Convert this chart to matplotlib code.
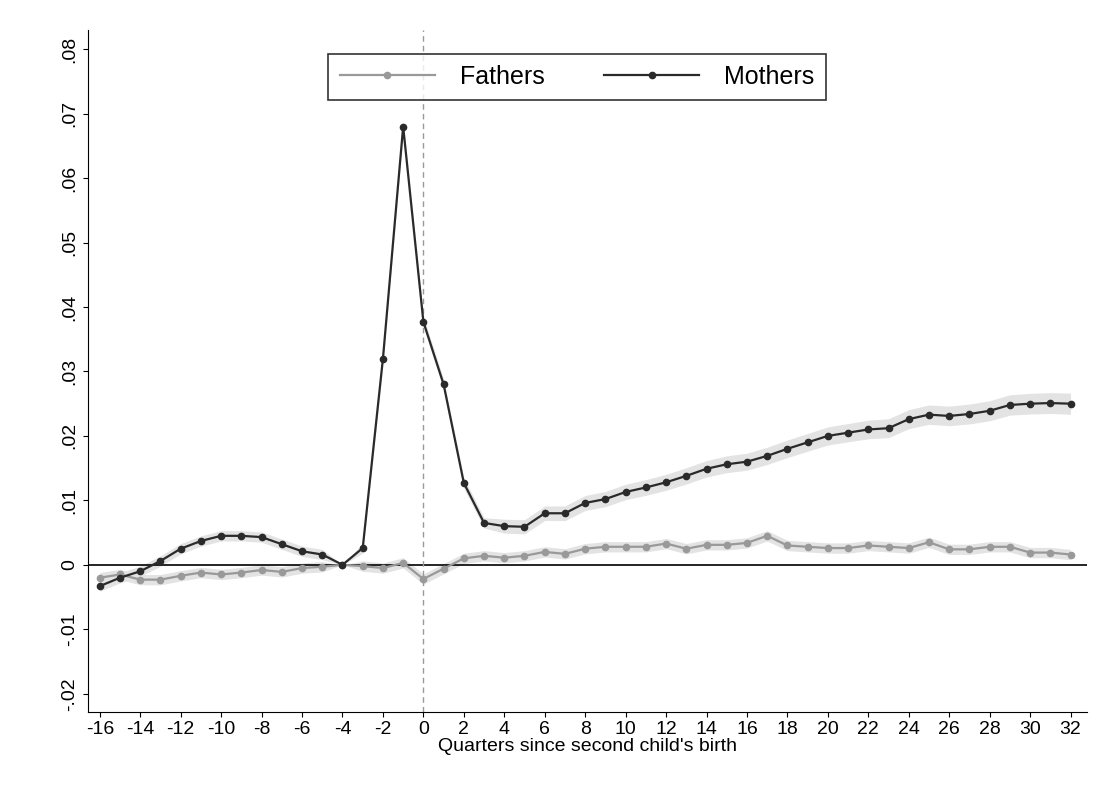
import matplotlib
matplotlib.use("Agg")
import matplotlib.pyplot as plt
import numpy as np

plt.rcParams['font.family'] = ['Liberation Sans', 'DejaVu Sans']
plt.rcParams['axes.unicode_minus'] = False

quarters = list(range(-16, 33))
mothers = [-0.0033,-0.002,-0.001,0.0006,0.0025,0.0037,0.0045,0.0045,0.0043,0.0032,0.0021,0.0016,0.0,
           0.0026,0.032,0.068,0.0377,0.028,0.0127,0.0065,0.006,0.0059,0.008,0.008,0.0096,0.0102,0.0113,
           0.012,0.0128,0.0138,0.0149,0.0156,0.016,0.0169,0.018,0.019,0.020,0.0205,0.021,0.0212,0.0226,
           0.0233,0.0231,0.0234,0.0239,0.0248,0.025,0.0251,0.025]
fathers = [-0.002,-0.0015,-0.0023,-0.0023,-0.0017,-0.0012,-0.0015,-0.0012,-0.0008,-0.0011,-0.0005,-0.0003,0.0,
           -0.0002,-0.0005,0.0003,-0.0022,-0.0006,0.001,0.0014,0.0011,0.0014,0.002,0.0017,0.0025,0.0028,0.0028,
           0.0028,0.0033,0.0025,0.0031,0.0031,0.0034,0.0045,0.003,0.0028,0.0026,0.0026,0.003,0.0028,0.0026,
           0.0035,0.0024,0.0024,0.0028,0.0028,0.0019,0.0019,0.0016]
mothers_ci = [0.0008 if q < -4 else (0.0 if q == -4 else (0.0008 if q < 4 else 0.001 + 0.00002*q)) for q in quarters]
fathers_ci = [0.0 if q == -4 else 0.0008 for q in quarters]
yticks = [-0.02,-0.01,0,0.01,0.02,0.03,0.04,0.05,0.06,0.07,0.08]
ylabels = ["-.02","-.01","0",".01",".02",".03",".04",".05",".06",".07",".08"]

x = np.array(quarters); m = np.array(mothers); f = np.array(fathers)
mc = np.array(mothers_ci); fc = np.array(fathers_ci)

fig = plt.figure(figsize=(11.1, 8.07), dpi=100)
ax = fig.add_axes([0.079, 0.118, 0.9, 0.845])
ax.fill_between(x, m-mc, m+mc, color="#e3e3e3", lw=0)
ax.fill_between(x, f-fc, f+fc, color="#e3e3e3", lw=0)
ax.axhline(0, color="black", lw=1.2)
ax.axvline(0, color="#999999", lw=1, ls=(0, (4, 3)))
ax.plot(x, f, color="#999999", marker="o", ms=4.5, lw=1.6, label="Fathers")
ax.plot(x, m, color="#2a2a2a", marker="o", ms=4.5, lw=1.6, label="Mothers")
ax.set_xlim(-16.6, 32.8)
ax.set_ylim(-0.0228, 0.083)
ax.set_xticks(range(-16, 33, 2))
ax.set_yticks(yticks)
ax.set_yticklabels(ylabels, rotation=90, va="center")
ax.tick_params(labelsize=14)
for s in ["top", "right"]:
    ax.spines[s].set_visible(False)
ax.set_xlabel("Quarters since second child's birth", fontsize=14, labelpad=0)
leg = ax.legend(loc="upper center", bbox_to_anchor=(0.49, 0.983), ncol=2, fontsize=18,
                frameon=True, fancybox=False, edgecolor="black", handlelength=3.8,
                columnspacing=2.4, borderpad=0.45, handletextpad=1.0)
leg.get_frame().set_linewidth(1.2)
fig.savefig("out.png", dpi=100, facecolor="white")
